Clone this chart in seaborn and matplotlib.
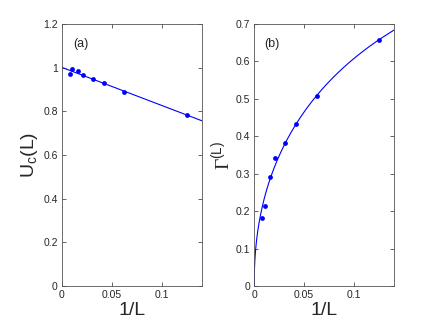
import numpy as np
import pandas as pd
import matplotlib
matplotlib.use("Agg")
import matplotlib.pyplot as plt
import seaborn as sns

# system sizes and measured quantities
inv_L = [1 / 128, 1 / 96, 1 / 64, 1 / 48, 1 / 32, 1 / 24, 1 / 16, 1 / 8]
U_c = [0.971, 0.995, 0.986, 0.966, 0.950, 0.930, 0.888, 0.784]
Gamma = [0.182, 0.213, 0.290, 0.342, 0.383, 0.432, 0.509, 0.657]

# fit parameters
U_fit_intercept = 1.0015
U_fit_slope = -1.746
G_fit_amp = 1.904
G_fit_exp = 0.454
G_fit_damp = 1.0

df = pd.DataFrame({"inv_L": inv_L, "U_c": U_c, "Gamma": Gamma})

sns.set_theme(style="ticks")
plt.rcParams["font.family"] = ["Liberation Sans", "DejaVu Sans"]
plt.rcParams["mathtext.fontset"] = "custom"
plt.rcParams["mathtext.rm"] = "Liberation Sans"
plt.rcParams["mathtext.it"] = "Liberation Sans"
plt.rcParams["mathtext.cal"] = "Liberation Serif"

fig = plt.figure(figsize=(4.36, 3.21), dpi=100)
ax1 = fig.add_axes([0.142, 0.109, 0.321, 0.816])
ax2 = fig.add_axes([0.583, 0.109, 0.321, 0.816])

blue = "#0000ff"
xx = np.linspace(0, 0.14, 600)

# (a) U_c(L) with linear fit
sns.lineplot(x=xx, y=U_fit_intercept + U_fit_slope * xx, ax=ax1, color=blue, lw=0.8)
sns.scatterplot(data=df, x="inv_L", y="U_c", ax=ax1, color=blue, s=12,
                edgecolor=blue, linewidth=0, zorder=3)
ax1.set_ylim(0, 1.2)
ax1.set_yticks([0, 0.2, 0.4, 0.6, 0.8, 1, 1.2])
ax1.set_yticklabels(["0", "0.2", "0.4", "0.6", "0.8", "1", "1.2"])
ax1.set_ylabel(r"$\mathrm{U_c(L)}$", fontsize=14, labelpad=2)
ax1.text(0.011, 1.095, "(a)", fontsize=9, color="#262626")

# (b) Gamma(L) with power-law fit
yy = G_fit_amp * xx ** G_fit_exp / (1 + G_fit_damp * xx)
sns.lineplot(x=xx, y=yy, ax=ax2, color=blue, lw=0.8)
sns.scatterplot(data=df, x="inv_L", y="Gamma", ax=ax2, color=blue, s=12,
                edgecolor=blue, linewidth=0, zorder=3)
ax2.set_ylim(0, 0.7)
ax2.set_yticks([0, 0.1, 0.2, 0.3, 0.4, 0.5, 0.6, 0.7])
ax2.set_yticklabels(["0", "0.1", "0.2", "0.3", "0.4", "0.5", "0.6", "0.7"])
ax2.set_ylabel(r"$\mathcal{\Gamma}^{\mathrm{(L)}}$", fontsize=14, labelpad=2)
ax2.text(0.010, 0.638, "(b)", fontsize=9, color="#262626")

for ax in (ax1, ax2):
    ax.set_xlim(0, 0.14)
    ax.set_xticks([0, 0.05, 0.1])
    ax.set_xticklabels(["0", "0.05", "0.1"])
    ax.set_xlabel("1/L", fontsize=14, labelpad=1)
    ax.tick_params(direction="in", top=True, right=True, length=3, width=0.5,
                   labelsize=7.5, colors="#262626", pad=3)
    for s in ax.spines.values():
        s.set_color("#555555")
        s.set_linewidth(0.6)

fig.savefig("out.png", dpi=100)
